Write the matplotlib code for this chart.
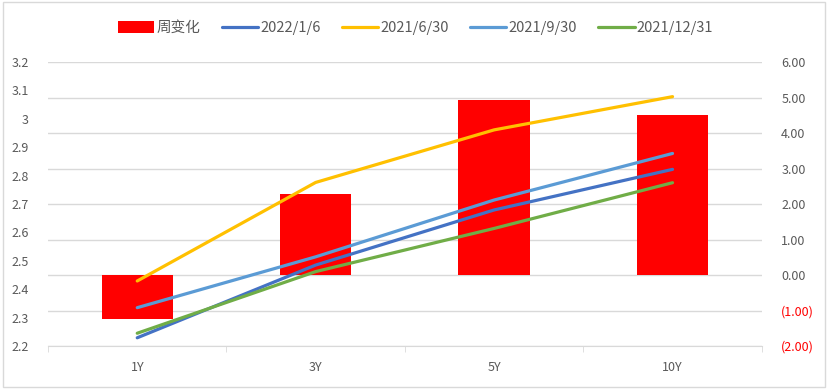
import numpy as np
import matplotlib
matplotlib.use('Agg')
import matplotlib.pyplot as plt
from matplotlib.ticker import FuncFormatter, FixedLocator
from matplotlib.patches import Rectangle

plt.rcParams['font.family'] = ['Noto Sans CJK SC', 'DejaVu Sans']

tenors = ['1Y', '3Y', '5Y', '10Y']
week_change = [-1.24, 2.27, 4.93, 4.51]
y_20220106 = [2.229, 2.485, 2.679, 2.822]
y_20210630 = [2.429, 2.776, 2.961, 3.078]
y_20210930 = [2.335, 2.514, 2.714, 2.878]
y_20211231 = [2.245, 2.462, 2.614, 2.775]

grey = '#595959'
fig = plt.figure(figsize=(8.28, 3.89), dpi=100)
fig.patches.append(Rectangle((0.004, 0.005), 0.992, 0.99, transform=fig.transFigure,
                             fill=False, edgecolor='#d9d9d9', lw=1))

ax2 = fig.add_axes([0.058, 0.1105, 0.862, 0.7301])
ax = ax2.twinx()
ax.yaxis.tick_left()
ax2.yaxis.tick_right()
ax.set_zorder(ax2.get_zorder() + 1)
ax.patch.set_visible(False)

x = np.arange(len(tenors))
ax2.bar(x, week_change, width=0.4, color='#FF0000', label='周变化', zorder=2)
ax2.set_ylim(-2, 6)
ax2.set_yticks(np.arange(-2, 7, 1))
ax2.yaxis.set_major_formatter(FuncFormatter(lambda v, p: '(%.2f)' % abs(v) if v < 0 else '%.2f' % v))
ax2.grid(axis='y', color='#d9d9d9', lw=1, zorder=0)
ax2.set_axisbelow(True)

series = [(y_20220106, '#4472C4', '2022/1/6'),
          (y_20210630, '#FFC000', '2021/6/30'),
          (y_20210930, '#5B9BD5', '2021/9/30'),
          (y_20211231, '#70AD47', '2021/12/31')]
for vals, c, name in series:
    ax.plot(x, vals, color=c, lw=2.3, label=name, solid_capstyle='round')
ax.set_ylim(2.2, 3.2)
ax.set_yticks(np.round(np.arange(2.2, 3.21, 0.1), 1))
ax.yaxis.set_major_formatter(FuncFormatter(lambda v, p: '3' if abs(v - 3) < 1e-9 else '%.1f' % v))

for a in (ax, ax2):
    for s in a.spines.values():
        s.set_visible(False)
    a.tick_params(axis='y', length=0, labelsize=9, colors=grey, pad=14)
for lab, v in zip(ax2.get_yticklabels(), np.arange(-2, 7, 1)):
    lab.set_color('#FF0000' if v < 0 else grey)

ax2.spines['bottom'].set_visible(True)
ax2.spines['bottom'].set_color('#d9d9d9')
ax2.set_xlim(-0.5, 3.5)
ax.set_xlim(-0.5, 3.5)
ax2.set_xticks(x)
ax2.set_xticklabels(tenors)
ax2.xaxis.set_minor_locator(FixedLocator(np.arange(-0.5, 3.6, 1)))
ax2.tick_params(axis='x', which='major', length=0, labelsize=9, labelcolor=grey, pad=11)
ax2.tick_params(axis='x', which='minor', length=4, color='#d9d9d9')
ax.tick_params(axis='x', which='both', length=0, labelbottom=False)

h1, l1 = ax2.get_legend_handles_labels()
h2, l2 = ax.get_legend_handles_labels()
fig.legend(h1 + h2, l1 + l2, loc='center', bbox_to_anchor=(0.502, 0.928), ncol=5,
           frameon=False, fontsize=10.5, labelcolor=grey, handlelength=2.5,
           handletextpad=0.15, columnspacing=1.45, handleheight=0.9)

fig.savefig('out.png', dpi=100)
